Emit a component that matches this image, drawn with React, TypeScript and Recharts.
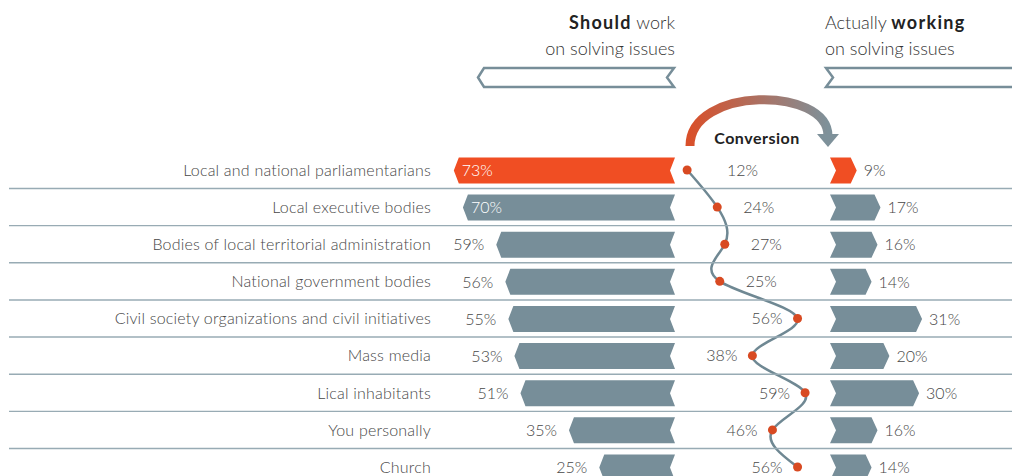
import React from "react";
import { ComposedChart, Bar, Line, XAxis, YAxis, LabelList } from "recharts";

const categories = [
  "Local and national parliamentarians",
  "Local executive bodies",
  "Bodies of local territorial administration",
  "National government bodies",
  "Civil society organizations and civil initiatives",
  "Mass media",
  "Lical inhabitants",
  "You personally",
  "Church",
];
const shouldWork = [73, 70, 59, 56, 55, 53, 51, 35, 25];
const conversion = [12, 24, 27, 25, 56, 38, 59, 46, 56];
const actuallyWorking = [9, 17, 16, 14, 31, 20, 30, 16, 14];

const data = categories.map((name, i) => ({
  name,
  should: shouldWork[i],
  conv: conversion[i],
  actual: actuallyWorking[i],
}));

const W = 1012;
const H = 490;
const TOP = 151.4;
const BOTTOM = 485.6;
const ROW_H = (BOTTOM - TOP) / categories.length;
const PLOT_LEFT = 440;
const PLOT_RIGHT = 1012;

const ORANGE = "#f04e23";
const SLATE = "#778e99";
const TEXT = "#474747";
const DOT = "#d84a22";
const CURVE = "#6f8893";
const RULE = "#98abb4";
const FONT = "Lato, 'Open Sans', sans-serif";

// zero position + px per percent -> axis domain over the plot range
const domainFor = (zeroX: number, ppu: number) => [
  -(zeroX - PLOT_LEFT) / ppu,
  (PLOT_RIGHT - zeroX) / ppu,
];
const domainForReversed = (zeroX: number, ppu: number) => [
  -(PLOT_RIGHT - zeroX) / ppu,
  (zeroX - PLOT_LEFT) / ppu,
];

const boxOf = (p: any) => {
  const x = p.x ?? p.viewBox?.x ?? 0;
  const y = p.y ?? p.viewBox?.y ?? 0;
  const width = p.width ?? p.viewBox?.width ?? 0;
  const height = p.height ?? p.viewBox?.height ?? 0;
  return { l: Math.min(x, x + width), r: Math.max(x, x + width), y, height };
};

const LeftArrow = (p: any) => {
  const { l, r, y, height } = boxOf(p);
  const cy = y + height / 2;
  const d = 5;
  const fill = p.index === 0 ? ORANGE : SLATE;
  return (
    <polygon
      points={`${l},${cy} ${l + d},${y} ${r},${y} ${r - d},${cy} ${r},${y + height} ${l + d},${y + height}`}
      fill={fill}
    />
  );
};

const RightArrow = (p: any) => {
  const { l, r, y, height } = boxOf(p);
  const cy = y + height / 2;
  const d = 6;
  const fill = p.index === 0 ? ORANGE : SLATE;
  return (
    <polygon
      points={`${l},${y} ${r - d},${y} ${r},${cy} ${r - d},${y + height} ${l},${y + height} ${l + d},${cy}`}
      fill={fill}
    />
  );
};

const leftLabel = (p: any) => {
  const { l, y, height } = boxOf(p);
  const inside = Number(p.value) >= 60;
  return (
    <text
      x={inside ? l + 8 : l - 12}
      y={y + height / 2}
      dy="0.36em"
      textAnchor={inside ? "start" : "end"}
      fill={inside ? "#ffffff" : TEXT}
      fontFamily={FONT}
      fontWeight={300}
      fontSize={16}
    >
      {p.value}%
    </text>
  );
};

const rightLabel = (p: any) => {
  const { r, y, height } = boxOf(p);
  return (
    <text x={r + 7} y={y + height / 2} dy="0.36em" fill={TEXT} fontFamily={FONT} fontWeight={300} fontSize={16}>
      {p.value}%
    </text>
  );
};

const convLabel = (p: any) => {
  const x = p.x ?? p.viewBox?.x;
  const y = p.y ?? p.viewBox?.y;
  const before = p.index < 4;
  return (
    <text
      x={before ? Math.max(x + 26, 727) : x - 15}
      y={y}
      dy="0.36em"
      textAnchor={before ? "start" : "end"}
      fill={TEXT}
      fontFamily={FONT}
      fontWeight={300}
      fontSize={16}
    >
      {p.value}%
    </text>
  );
};

const CategoryTick = (p: any) => {
  const { x, y, payload, index } = p;
  return (
    <g>
      <text
        x={x}
        y={y}
        dy="0.36em"
        textAnchor="end"
        fill={TEXT}
        fontFamily={FONT}
        fontWeight={300}
        fontSize={16}
        letterSpacing={0.2}
      >
        {payload.value}
      </text>
      {index < categories.length - 1 && (
        <line x1={9} x2={W} y1={y + ROW_H / 2} y2={y + ROW_H / 2} stroke={RULE} strokeWidth={1.4} />
      )}
    </g>
  );
};

const ConvDot = (p: any) => <circle cx={p.cx} cy={p.cy} r={4.5} fill={DOT} />;

function Header() {
  return (
    <svg width={W} height={476} style={{ position: "absolute", left: 0, top: 0, pointerEvents: "none" }}>
      <defs>
        <linearGradient id="convGrad" x1="0" x2="1" y1="0" y2="0">
          <stop offset="0%" stopColor="#d9502a" />
          <stop offset="100%" stopColor="#7e919a" />
        </linearGradient>
      </defs>
      <g fontFamily={FONT} fontSize={18} fill="#333">
        <text x={675} y={29} textAnchor="end">
          <tspan fontWeight={700} fill="#222" letterSpacing={1.3}>Should</tspan>
          <tspan fontWeight={300}> work</tspan>
        </text>
        <text x={675} y={55} textAnchor="end" fontWeight={300}>on solving issues</text>
        <text x={825} y={29}>
          <tspan fontWeight={300}>Actually </tspan>
          <tspan fontWeight={700} fill="#222" letterSpacing={1.3}>working</tspan>
        </text>
        <text x={825} y={55} fontWeight={300}>on solving issues</text>
      </g>
      <polygon
        points="478,77.5 484,68 674,68 667,77.5 674,87 484,87"
        fill="#fff"
        stroke={SLATE}
        strokeWidth={2.5}
      />
      <polygon points="1016,68 826,68 833,77.5 826,87 1016,87" fill="#fff" stroke={SLATE} strokeWidth={2.5} />
      <path d="M 690 146 C 690 86, 828 86, 828 136" fill="none" stroke="url(#convGrad)" strokeWidth={9} />
      <polygon points="817,134 839,134 828,147" fill="#7e919a" />
      <text
        x={757}
        y={144}
        textAnchor="middle"
        fontFamily={FONT}
        fontWeight={700}
        fontSize={16}
        letterSpacing={0.5}
        fill="#222"
      >
        Conversion
      </text>
    </svg>
  );
}

export default function App() {
  return (
    <div style={{ position: "absolute", left: 0, top: 0, width: W, height: 476, overflow: "hidden", background: "#fff" }}>
      <ComposedChart
        width={W}
        height={H}
        data={data}
        layout="vertical"
        margin={{ top: TOP, right: 0, bottom: H - BOTTOM, left: 0 }}
      >
        <XAxis xAxisId="should" type="number" hide reversed allowDataOverflow domain={domainForReversed(675, 3.03)} />
        <XAxis xAxisId="actual" type="number" hide allowDataOverflow domain={domainFor(830, 2.97)} />
        <XAxis xAxisId="conv" type="number" hide allowDataOverflow domain={domainFor(657, 2.51)} />
        <YAxis
          yAxisId="cat"
          type="category"
          dataKey="name"
          width={PLOT_LEFT}
          axisLine={false}
          tickLine={false}
          tickSize={0}
          tickMargin={9}
          interval={0}
          tick={<CategoryTick />}
        />
        <YAxis yAxisId="cat2" type="category" dataKey="name" hide />
        <YAxis yAxisId="cat3" type="category" dataKey="name" hide />
        <Bar
          xAxisId="should"
          yAxisId="cat"
          dataKey="should"
          barSize={26}
          shape={<LeftArrow />}
          isAnimationActive={false}
        >
          <LabelList dataKey="should" content={leftLabel} />
        </Bar>
        <Bar
          xAxisId="actual"
          yAxisId="cat2"
          dataKey="actual"
          barSize={26}
          shape={<RightArrow />}
          isAnimationActive={false}
        >
          <LabelList dataKey="actual" content={rightLabel} />
        </Bar>
        <Line
          xAxisId="conv"
          yAxisId="cat3"
          dataKey="conv"
          type="natural"
          stroke={CURVE}
          strokeWidth={2.5}
          dot={<ConvDot />}
          activeDot={false}
          isAnimationActive={false}
        >
          <LabelList dataKey="conv" content={convLabel} />
        </Line>
      </ComposedChart>
      <Header />
    </div>
  );
}
